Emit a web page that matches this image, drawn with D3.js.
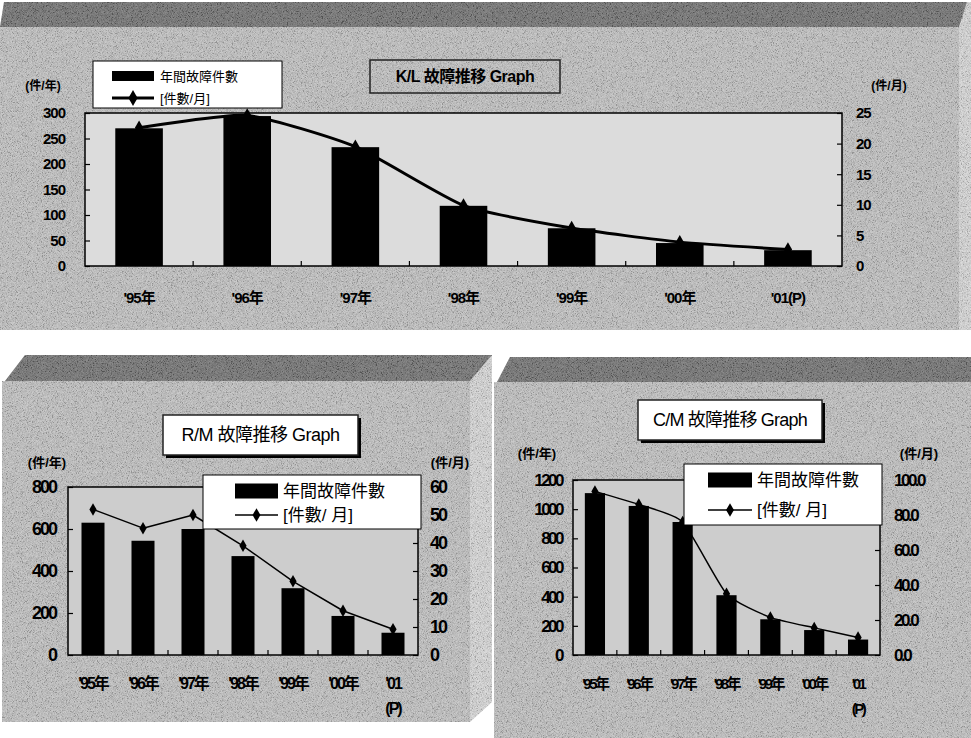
<!DOCTYPE html>
<html>
<head>
<meta charset="utf-8">
<script src="https://cdn.jsdelivr.net/npm/d3@7/dist/d3.min.js"></script>
<style>
  html, body { margin: 0; padding: 0; background: #fff; }
  svg { display: block; }
  text { font-family: "Liberation Sans", "Noto Sans CJK JP", sans-serif; fill: #000; }
</style>
</head>
<body>
<svg id="chart" width="971" height="738"></svg>
<script>
// categories (shared by the three charts)
var years = ["'95年", "'96年", "'97年", "'98年", "'99年", "'00年", "'01(P)"];

// K/L chart
var klAnnual = [270, 294, 233, 118, 74, 45, 31];
var klMonthly = [22.6, 24.6, 19.5, 9.9, 6.2, 3.9, 2.7];
var klLeftTicks = [0, 50, 100, 150, 200, 250, 300];
var klRightTicks = [0, 5, 10, 15, 20, 25];

// R/M chart
var rmAnnual = [630, 544, 600, 471, 318, 186, 106];
var rmMonthly = [52.0, 45.3, 50.0, 39.0, 26.3, 15.8, 9.2];
var rmLeftTicks = [0, 200, 400, 600, 800];
var rmRightTicks = [0, 10, 20, 30, 40, 50, 60];

// C/M chart
var cmAnnual = [1110, 1022, 912, 410, 245, 171, 106];
var cmMonthly = [93.5, 86.0, 76.0, 35.0, 21.5, 15.5, 10.0];
var cmLeftTicks = [0, 200, 400, 600, 800, 1000, 1200];
var cmRightTicks = [0, 20, 40, 60, 80, 100];

var legendBar = "年間故障件數";

var svg = d3.select("#chart");
var defs = svg.append("defs");
var clipCount = 0;

// scan-like grain
var f = defs.append("filter").attr("id", "grain")
  .attr("x", 0).attr("y", 0).attr("width", "100%").attr("height", "100%");
f.append("feTurbulence").attr("type", "fractalNoise")
  .attr("baseFrequency", 1.2).attr("numOctaves", 2).attr("seed", 5);
f.append("feColorMatrix").attr("type", "matrix")
  .attr("values", "0.33 0.33 0.33 0 0  0.33 0.33 0.33 0 0  0.33 0.33 0.33 0 0  0 0 0 0 1");
var ct = f.append("feComponentTransfer");
["feFuncR", "feFuncG", "feFuncB"].forEach(function(fn) {
  ct.append(fn).attr("type", "linear").attr("slope", 4).attr("intercept", -1.5);
});

//draws the 3D-ish panel: dark top band, grey body, lighter right face
function panel(band, body, face) {
  var g = svg.append("g");
  g.append("polygon").attr("points", body.join(" ")).attr("fill", "#bdbdbd");
  g.append("polygon").attr("points", face.join(" ")).attr("fill", "#d4d4d4");
  g.append("polygon").attr("points", band.join(" ")).attr("fill", "#6a6a6a");
  var cp = "cp" + (clipCount++);
  var clip = defs.append("clipPath").attr("id", cp);
  [band, body, face].forEach(function(p) {
    clip.append("polygon").attr("points", p.join(" "));
  });
  g.append("rect").attr("width", 971).attr("height", 738)
    .attr("filter", "url(#grain)").attr("opacity", 0.22)
    .attr("clip-path", "url(#" + cp + ")");
}

panel([[4, 2], [967, 2], [959, 27], [0, 27]],
      [[0, 27], [959, 27], [959, 330], [0, 330]],
      [[967, 2], [971, 2], [971, 330], [959, 330], [959, 27]]);
panel([[25, 355], [492, 355], [470, 381], [5, 381]],
      [[2, 381], [470, 381], [470, 722], [2, 722]],
      [[492, 355], [492, 702], [470, 722], [470, 381]]);
panel([[510, 357], [971, 357], [971, 382], [497, 382]],
      [[494, 382], [971, 382], [971, 738], [494, 738]],
      [[971, 357], [971, 360], [971, 360]]);

function drawChart(c) {
  var g = svg.append("g");
  var n = years.length;

  var x = d3.scaleBand().domain(d3.range(n)).range([c.x0, c.x1])
    .paddingInner(1 - c.barRatio).paddingOuter((1 - c.barRatio) / 2);
  var step = (c.x1 - c.x0) / n;
  var yL = d3.scaleLinear().domain([0, c.leftTicks[c.leftTicks.length - 1]]).range([c.y1, c.y0]);
  var yR = d3.scaleLinear().domain([0, c.rightTicks[c.rightTicks.length - 1]]).range([c.y1, c.y0]);

  // plot area
  g.append("rect").attr("x", c.x0).attr("y", c.y0)
    .attr("width", c.x1 - c.x0).attr("height", c.y1 - c.y0)
    .attr("fill", c.plotFill);

  // bars
  g.selectAll(".bar").data(c.annual).enter().append("rect")
    .attr("x", function(d, i) { return x(i); })
    .attr("y", function(d) { return yL(d); })
    .attr("width", x.bandwidth())
    .attr("height", function(d) { return c.y1 - yL(d); })
    .attr("fill", "#000");

  // monthly line
  var line = d3.line()
    .x(function(d, i) { return x(i) + x.bandwidth() / 2; })
    .y(function(d) { return yR(d); })
    .curve(c.smooth ? d3.curveCardinal.tension(0.45) : d3.curveLinear);
  g.append("path").datum(c.monthly)
    .attr("fill", "none").attr("stroke", "#000")
    .attr("stroke-width", c.lineWidth).attr("stroke-linejoin", "round")
    .attr("d", line);
  g.selectAll(".mk").data(c.monthly).enter().append("path")
    .attr("transform", function(d, i) {
      return "translate(" + (x(i) + x.bandwidth() / 2) + "," + yR(d) + ")";
    })
    .attr("d", d3.symbol().type(d3.symbolDiamond).size(c.markSize))
    .attr("fill", "#000");

  // frame
  g.append("rect").attr("x", c.x0).attr("y", c.y0)
    .attr("width", c.x1 - c.x0).attr("height", c.y1 - c.y0)
    .attr("fill", "none").attr("stroke", "#000").attr("stroke-width", 1.5);

  // left axis
  var la = g.append("g").attr("transform", "translate(" + c.x0 + ",0)")
    .call(d3.axisLeft(yL).tickValues(c.leftTicks).tickSizeInner(-5).tickSizeOuter(0)
      .tickPadding(c.padL).tickFormat(d3.format("d")));
  // right axis
  var ra = g.append("g").attr("transform", "translate(" + c.x1 + ",0)")
    .call(d3.axisRight(yR).tickValues(c.rightTicks).tickSizeInner(-5).tickSizeOuter(0)
      .tickPadding(c.padR).tickFormat(d3.format(c.rightFormat)));
  [la, ra].forEach(function(a) {
    a.select(".domain").remove();
    a.selectAll("line").attr("stroke", "#000").attr("stroke-width", 1.2);
    a.selectAll("text").attr("font-size", c.tickFont).attr("letter-spacing", c.tickSpacing)
      .attr("font-weight", c.tickWeight).style("fill", "#000");
  });

  // category boundary ticks on the bottom edge
  g.selectAll(".ct").data(d3.range(1, n)).enter().append("line")
    .attr("x1", function(i) { return c.x0 + i * step; })
    .attr("x2", function(i) { return c.x0 + i * step; })
    .attr("y1", c.y1).attr("y2", c.y1 - 5)
    .attr("stroke", "#000").attr("stroke-width", 1.2);

  // category labels
  g.selectAll(".xl").data(years).enter().append("text")
    .attr("x", function(d, i) { return x(i) + x.bandwidth() / 2; })
    .attr("y", c.xLabelY)
    .attr("text-anchor", "middle")
    .attr("font-size", c.xFont)
    .attr("font-weight", c.xWeight)
    .attr("letter-spacing", c.tickSpacing)
    .each(function(d) {
      var t = d3.select(this);
      if (c.splitP && d.indexOf("(P)") > 0) {
        t.append("tspan").attr("x", t.attr("x")).text(d.replace("(P)", ""));
        t.append("tspan").attr("x", t.attr("x")).attr("dy", 25).text("(P)");
      } else {
        t.text(d);
      }
    });

  // axis unit titles
  g.append("text").attr("x", c.unitL[0]).attr("y", c.unitL[1])
    .attr("text-anchor", "middle").attr("font-size", c.unitFont).attr("font-weight", "bold")
    .text("(件/年)");
  g.append("text").attr("x", c.unitR[0]).attr("y", c.unitR[1])
    .attr("text-anchor", "middle").attr("font-size", c.unitFont).attr("font-weight", "bold")
    .text("(件/月)");

  // legend
  var L = c.legend;
  g.append("rect").attr("x", L.x).attr("y", L.y).attr("width", L.w).attr("height", L.h)
    .attr("fill", "#fff").attr("stroke", "#000").attr("stroke-width", 1);
  g.append("rect").attr("x", L.sx).attr("y", L.r1 - L.sh / 2).attr("width", L.sw).attr("height", L.sh)
    .attr("fill", "#000");
  g.append("text").attr("x", L.tx).attr("y", L.r1).attr("dy", "0.36em")
    .attr("font-size", L.font).text(legendBar);
  g.append("line").attr("x1", L.sx).attr("x2", L.sx + L.sw).attr("y1", L.r2).attr("y2", L.r2)
    .attr("stroke", "#000").attr("stroke-width", c.lineWidth);
  g.append("path").attr("transform", "translate(" + (L.sx + L.sw / 2) + "," + L.r2 + ")")
    .attr("d", d3.symbol().type(d3.symbolDiamond).size(c.markSize * 1.2)).attr("fill", "#000");
  g.append("text").attr("x", L.tx).attr("y", L.r2).attr("dy", "0.36em")
    .attr("font-size", L.font).text(L.lineText);

  // title box
  var T = c.title;
  if (T.shadow) {
    g.append("rect").attr("x", T.x + 3).attr("y", T.y + 3).attr("width", T.w).attr("height", T.h)
      .attr("fill", "#000");
  }
  g.append("rect").attr("x", T.x).attr("y", T.y).attr("width", T.w).attr("height", T.h)
    .attr("fill", T.fill).attr("stroke", "#222").attr("stroke-width", 1.5);
  g.append("text").attr("x", T.x + T.w / 2).attr("y", T.y + T.h / 2).attr("dy", "0.36em")
    .attr("text-anchor", "middle").attr("font-size", T.font).attr("letter-spacing", T.spacing)
    .attr("font-weight", T.weight).text(T.text);
}

drawChart({
  annual: klAnnual, monthly: klMonthly, leftTicks: klLeftTicks, rightTicks: klRightTicks,
  x0: 85, x1: 842, y0: 113, y1: 266, barRatio: 0.44, plotFill: "#dcdcdc",
  smooth: true, lineWidth: 3, markSize: 60,
  padL: 20, padR: 14, rightFormat: "d", tickFont: 15, tickSpacing: -1, tickWeight: "bold",
  xLabelY: 303, xFont: 15, xWeight: "bold", splitP: false,
  unitL: [43, 90], unitR: [889, 90], unitFont: 12,
  legend: { x: 93, y: 61, w: 189, h: 47, sx: 112, sw: 42, sh: 10, tx: 160, r1: 76, r2: 98,
            font: 13, lineText: "[件數/月]" },
  title: { x: 370, y: 60, w: 190, h: 33, fill: "none", shadow: false, font: 16,
           spacing: -0.5, weight: "bold", text: "K/L 故障推移 Graph" }
});

drawChart({
  annual: rmAnnual, monthly: rmMonthly, leftTicks: rmLeftTicks, rightTicks: rmRightTicks,
  x0: 68, x1: 418, y0: 487, y1: 655, barRatio: 0.46, plotFill: "#cdcdcd",
  smooth: false, lineWidth: 1.5, markSize: 45,
  padL: 12, padR: 12, rightFormat: "d", tickFont: 18, tickSpacing: -2, tickWeight: "bold",
  xLabelY: 689, xFont: 16, xWeight: "bold", splitP: true,
  unitL: [47, 467], unitR: [450, 467], unitFont: 13,
  legend: { x: 203, y: 475, w: 218, h: 54, sx: 235, sw: 43, sh: 15, tx: 283, r1: 491, r2: 515,
            font: 17, lineText: "[件數/ 月]" },
  title: { x: 163, y: 415, w: 195, h: 40, fill: "#fff", shadow: true, font: 18,
           spacing: -0.5, weight: "normal", text: "R/M 故障推移 Graph" }
});

drawChart({
  annual: cmAnnual, monthly: cmMonthly, leftTicks: cmLeftTicks, rightTicks: cmRightTicks,
  x0: 573, x1: 880, y0: 480, y1: 655, barRatio: 0.46, plotFill: "#cdcdcd",
  smooth: true, lineWidth: 1.5, markSize: 45,
  padL: 11, padR: 14, rightFormat: ".1f", tickFont: 17, tickSpacing: -2.5, tickWeight: "bold",
  xLabelY: 689, xFont: 15, xWeight: "bold", splitP: true,
  unitL: [537, 458], unitR: [919, 458], unitFont: 13,
  legend: { x: 684, y: 464, w: 198, h: 61, sx: 708, sw: 44, sh: 15, tx: 757, r1: 480, r2: 510,
            font: 17, lineText: "[件數/ 月]" },
  title: { x: 638, y: 400, w: 184, h: 40, fill: "#fff", shadow: true, font: 18,
           spacing: -0.8, weight: "normal", text: "C/M 故障推移 Graph" }
});
</script>
</body>
</html>
